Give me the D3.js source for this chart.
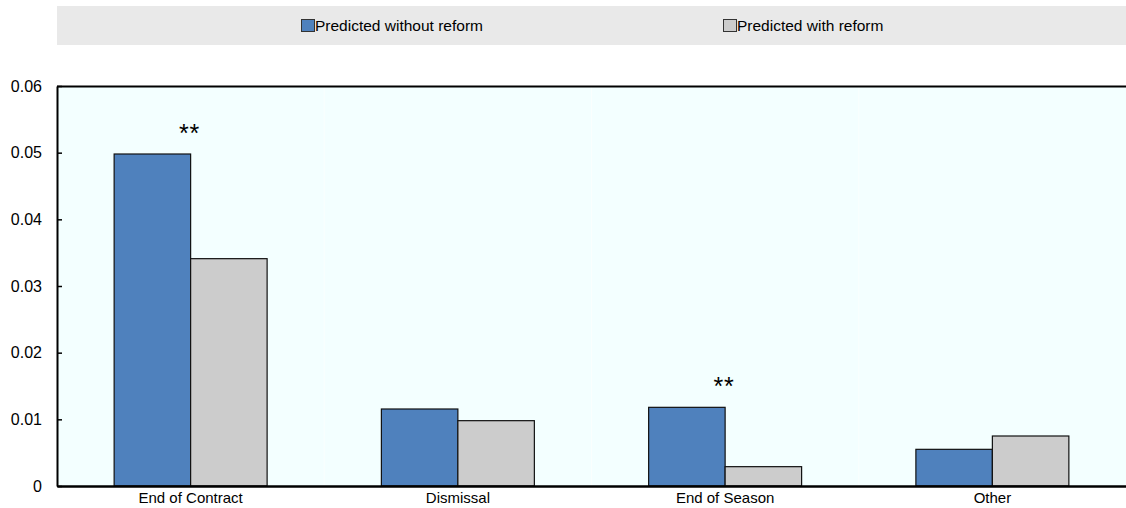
<!DOCTYPE html>
<html>
<head>
<meta charset="utf-8">
<script src="https://cdn.jsdelivr.net/npm/d3@7"></script>
<style>
  body { margin: 0; background: #fff; }
  text { font-family: Arial, "Liberation Sans", sans-serif; }
</style>
</head>
<body>
<div id="chart"></div>
<script>
// datos
const categories = ["End of Contract", "Dismissal", "End of Season", "Other"];
const seriesNames = ["Predicted without reform", "Predicted with reform"];
const withoutReform = [0.0498, 0.01155, 0.0118, 0.0055];
const withReform = [0.0341, 0.0098, 0.0029, 0.0075];
const significance = ["**", "", "**", ""];
const yTicks = [0, 0.01, 0.02, 0.03, 0.04, 0.05, 0.06];
const colors = ["#4f81bd", "#cccccc"];

const W = 1126, H = 508;
const margin = { top: 86, right: 0, bottom: 22, left: 57 };
const width = W - margin.left - margin.right;
const height = H - margin.top - margin.bottom;

const svg = d3.select("#chart").append("svg")
    .attr("width", W)
    .attr("height", H);

// leyenda
const legend = svg.append("g");
legend.append("rect")
    .attr("x", margin.left).attr("y", 6)
    .attr("width", W - margin.left).attr("height", 39)
    .attr("fill", "#e9e9e9");

const legendX = d3.scalePoint()
    .domain(seriesNames)
    .range([301, 723]);

const items = legend.selectAll(".item")
    .data(seriesNames)
    .enter().append("g")
    .attr("class", "item")
    .attr("transform", d => "translate(" + legendX(d) + ",19)");

items.append("rect")
    .attr("x", 0.5).attr("y", 0.5)
    .attr("width", 13).attr("height", 12)
    .attr("fill", (d, i) => colors[i])
    .attr("stroke", "#333")
    .attr("stroke-width", 1);

items.append("text")
    .attr("x", 14).attr("y", 11.5)
    .style("font-size", "15.5px")
    .attr("fill", "#000")
    .text(d => d);

const g = svg.append("g")
    .attr("transform", "translate(" + margin.left + "," + margin.top + ")");

const x0 = d3.scaleBand()
    .domain(categories)
    .range([0, width])
    .padding(0);

const x1 = d3.scaleBand()
    .domain(seriesNames)
    .range([0, x0.bandwidth()])
    .paddingInner(0)
    .paddingOuter(0.747);

const y = d3.scaleLinear()
    .domain([0, 0.06])
    .range([height, 0]);

// fondo del área del gráfico
g.append("rect")
    .attr("width", width).attr("height", height)
    .attr("fill", "#f3ffff");

// líneas tenues entre categorías
g.selectAll(".sep")
    .data(categories.slice(1))
    .enter().append("line")
    .attr("x1", d => x0(d)).attr("x2", d => x0(d))
    .attr("y1", 0).attr("y2", height)
    .attr("stroke", "#fafffe")
    .attr("stroke-width", 1);

// línea superior
g.append("line")
    .attr("x1", 0).attr("x2", width)
    .attr("y1", 0.5).attr("y2", 0.5)
    .attr("stroke", "#000").attr("stroke-width", 2);

const rows = categories.map((c, i) => ({
    cat: c,
    vals: [withoutReform[i], withReform[i]],
    sig: significance[i]
}));

const groups = g.selectAll(".group")
    .data(rows)
    .enter().append("g")
    .attr("class", "group")
    .attr("transform", d => "translate(" + x0(d.cat) + ",0)");

groups.selectAll("rect")
    .data(d => d.vals.map((v, i) => ({ name: seriesNames[i], value: v, i: i })))
    .enter().append("rect")
    .attr("x", d => x1(d.name))
    .attr("y", d => y(d.value))
    .attr("width", x1.bandwidth())
    .attr("height", d => height - y(d.value))
    .attr("fill", d => colors[d.i])
    .attr("stroke", "#111")
    .attr("stroke-width", 1.2);

groups.filter(d => d.sig)
    .append("text")
    .attr("x", x0.bandwidth() / 2 - 1)
    .attr("y", d => y(d.vals[0]) - 12)
    .attr("text-anchor", "middle")
    .style("font-size", "25px")
    .style("letter-spacing", "1px")
    .text(d => d.sig);

// ejes
const yAxis = d3.axisLeft(y)
    .tickValues(yTicks)
    .tickFormat(d => d === 0 ? "0" : d3.format(".2f")(d))
    .tickSizeInner(-5)
    .tickSizeOuter(0)
    .tickPadding(15);

const ya = g.append("g").call(yAxis);
ya.select(".domain").attr("stroke", "#000").attr("stroke-width", 2);
ya.selectAll(".tick line").attr("stroke", "#000").attr("stroke-width", 1.5);
ya.selectAll(".tick text").style("font-size", "16px").attr("fill", "#000")
    .attr("font-family", "Arial, 'Liberation Sans', sans-serif");

const xAxis = d3.axisBottom(x0).tickSize(0).tickPadding(6);
const xa = g.append("g")
    .attr("transform", "translate(0," + height + ")")
    .call(xAxis);
xa.select(".domain").attr("stroke", "#000").attr("stroke-width", 2.5);
xa.selectAll(".tick text").style("font-size", "15px").attr("fill", "#000")
    .attr("font-family", "Arial, 'Liberation Sans', sans-serif");
</script>
</body>
</html>
